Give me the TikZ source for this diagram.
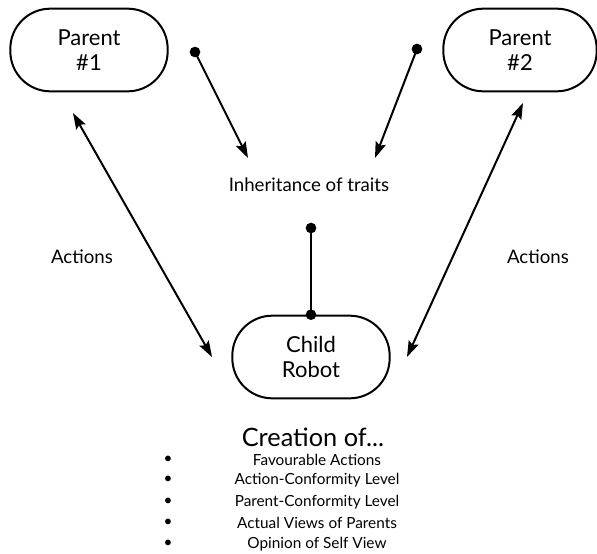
\documentclass[tikz,border=0pt]{standalone}
\usepackage{fontspec}
\setmainfont{Lato}
\usetikzlibrary{arrows.meta}

\begin{document}
\begin{tikzpicture}[x=0.75pt,y=-0.75pt,
  blob/.style={draw,line width=1.5pt,rounded corners=30pt,minimum width=118pt,minimum height=62pt,
    align=center,font=\fontsize{16.5}{19}\selectfont},
  lbl/.style={font=\fontsize{14}{16}\selectfont},
  arr/.style={line width=1.5pt,-{Stealth[length=12pt,width=8pt,inset=2pt]}},
  dblarr/.style={line width=1.5pt,{Stealth[length=12pt,width=8pt,inset=2pt]}-{Stealth[length=12pt,width=8pt,inset=2pt]}},
  dot/.style={circle,fill,inner sep=0pt,minimum size=8pt},
  item/.style={font=\fontsize{11.5}{13}\selectfont}]
\useasboundingbox (0,0) rectangle (597,554);
% the three actors
\node[blob] (parentA) at (89,50) {Parent\\\#1};
\node[blob,minimum width=115pt] (parentB) at (520,50) {Parent\\\#2};
\node[blob] (child) at (311,357) {Child\\Robot};
% labels
\node[lbl] (traits) at (309,185) {Inheritance of traits};
\node[lbl] (actA) at (82,257) {Actions};
\node[lbl] (actB) at (538,257) {Actions};
% inheritance connectors
\node[dot] (dotA) at (195,52) {};
\node[dot] (dotB) at (417,49) {};
\node[dot] (dotC) at (311,228) {};
\node[dot] (dotD) at (child.north) {};
\coordinate (tipA) at (248,158);
\coordinate (tipB) at (375,158);
\draw[arr] (dotA.center) -- (tipA);
\draw[arr] (dotB.center) -- (tipB);
\draw[line width=1.5pt] (dotC.center) -- (dotD.center);
% actions
\coordinate (topA) at (73,113);
\coordinate (topB) at (523,103);
\coordinate (sideA) at (212,357);
\coordinate (sideB) at (407,357);
\draw[dblarr] (topA) -- (sideA);
\draw[dblarr] (topB) -- (sideB);
% what the child builds
\node[font=\fontsize{19}{22}\selectfont] (creation) at (313,437) {Creation of...};
\foreach \y/\txt [count=\i] in {460/Favourable Actions,480/Action-Conformity Level,
    502/Parent-Conformity Level,523/Actual Views of Parents,544/Opinion of Self View}{
  \node[item] (item\i) at (317,\y) {\txt};
  \node[item] (bul\i) at (168,\y) {\textbullet};
}
\end{tikzpicture}
\end{document}
